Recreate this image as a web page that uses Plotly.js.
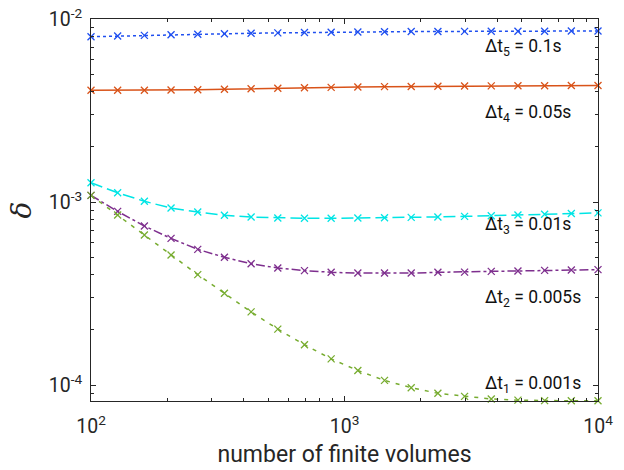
<!DOCTYPE html>
<html>
<head>
<meta charset="utf-8">
<script src="https://cdn.plot.ly/plotly-3.0.1.min.js"></script>
<style>html,body{margin:0;padding:0;background:#fff;}#chart{width:624px;height:470px;}</style>
</head>
<body>
<div id="chart"></div>
<script>
// number of finite volumes (20 log-spaced grid sizes)
const nVolumes = [100, 127.4, 162.4, 206.9, 263.7, 336.0, 428.1, 545.6, 695.2, 885.9,
                  1128.8, 1438.4, 1833.0, 2335.7, 2976.4, 3792.7, 4832.9, 6158.5, 7847.6, 10000];

// delta for each time step
const delta_dt5 = [8.00e-3, 8.07e-3, 8.14e-3, 8.20e-3, 8.26e-3, 8.31e-3, 8.36e-3, 8.40e-3, 8.44e-3, 8.47e-3,
                   8.50e-3, 8.52e-3, 8.54e-3, 8.55e-3, 8.56e-3, 8.57e-3, 8.58e-3, 8.58e-3, 8.59e-3, 8.60e-3];
const delta_dt4 = [4.08e-3, 4.08e-3, 4.08e-3, 4.09e-3, 4.11e-3, 4.13e-3, 4.16e-3, 4.18e-3, 4.21e-3, 4.23e-3,
                   4.25e-3, 4.27e-3, 4.28e-3, 4.29e-3, 4.30e-3, 4.31e-3, 4.32e-3, 4.32e-3, 4.33e-3, 4.33e-3];
const delta_dt3 = [1.275e-3, 1.124e-3, 1.009e-3, 9.27e-4, 8.82e-4, 8.46e-4, 8.28e-4, 8.18e-4, 8.15e-4, 8.15e-4,
                   8.17e-4, 8.20e-4, 8.24e-4, 8.29e-4, 8.35e-4, 8.42e-4, 8.50e-4, 8.58e-4, 8.65e-4, 8.72e-4];
const delta_dt2 = [1.087e-3, 8.89e-4, 7.39e-4, 6.33e-4, 5.51e-4, 4.99e-4, 4.60e-4, 4.36e-4, 4.22e-4, 4.13e-4,
                   4.09e-4, 4.09e-4, 4.09e-4, 4.13e-4, 4.14e-4, 4.18e-4, 4.20e-4, 4.23e-4, 4.25e-4, 4.27e-4];
const delta_dt1 = [1.087e-3, 8.49e-4, 6.60e-4, 5.13e-4, 4.01e-4, 3.17e-4, 2.51e-4, 2.02e-4, 1.66e-4, 1.39e-4,
                   1.20e-4, 1.06e-4, 9.67e-5, 9.01e-5, 8.67e-5, 8.39e-5, 8.27e-5, 8.22e-5, 8.20e-5, 8.20e-5];

const seriesLabels = ['Δt<sub>1</sub> = 0.001s', 'Δt<sub>2</sub> = 0.005s', 'Δt<sub>3</sub> = 0.01s',
                      'Δt<sub>4</sub> = 0.05s', 'Δt<sub>5</sub> = 0.1s'];
const labelY = [1.01e-4, 2.98e-4, 7.45e-4, 3.05e-3, 7.03e-3];

const xTickVals = [100, 1000, 10000];
const xTickText = ['10<sup>2</sup>', '10<sup>3</sup>', '10<sup>4</sup>'];
const xMinorVals = [200, 300, 400, 500, 600, 700, 800, 900, 2000, 3000, 4000, 5000, 6000, 7000, 8000, 9000];
const yTickVals = [1e-4, 1e-3, 1e-2];
const yTickText = ['10<sup>-4</sup>', '10<sup>-3</sup>', '10<sup>-2</sup>'];
const yMinorVals = [9e-5, 2e-4, 3e-4, 4e-4, 5e-4, 6e-4, 7e-4, 8e-4, 9e-4,
                    2e-3, 3e-3, 4e-3, 5e-3, 6e-3, 7e-3, 8e-3, 9e-3];

const ink = '#262626';
function tr(y, color, dash) {
  return {x: nVolumes, y: y, type: 'scatter', mode: 'lines+markers', cliponaxis: false,
    line: {color: color, width: 1.5, dash: dash},
    marker: {symbol: 'x-thin', size: 7, line: {color: color, width: 1.3}, color: color}};
}
const data = [
  tr(delta_dt5, '#1f4ff0', 'dot'),
  tr(delta_dt4, '#d95319', 'solid'),
  tr(delta_dt3, '#00e5e5', '12px,5px'),
  tr(delta_dt2, '#7e2f8e', 'dashdot'),
  tr(delta_dt1, '#77ac30', '4px,6px')
];

const annotations = seriesLabels.map((t, i) => ({
  x: Math.log10(3516), y: Math.log10(labelY[i]), xref: 'x', yref: 'y', text: t, showarrow: false,
  xanchor: 'left', yanchor: 'middle', font: {family: 'Roboto', size: 17.5, color: '#111'}
}));

const layout = {
  width: 624, height: 470,
  margin: {l: 91, r: 26, t: 19, b: 69},
  paper_bgcolor: '#fff', plot_bgcolor: '#fff',
  showlegend: false,
  font: {family: 'Roboto', color: ink},
  xaxis: {
    type: 'log', range: [2, 4], tickmode: 'array', tickvals: xTickVals, ticktext: xTickText,
    ticks: 'inside', ticklen: 5, tickcolor: ink, showline: true, linecolor: ink, linewidth: 1, mirror: 'ticks',
    showgrid: false, zeroline: false, tickfont: {size: 19.5, color: ink}, ticklabelstandoff: 8,
    minor: {tickmode: 'array', tickvals: xMinorVals, ticks: 'inside', ticklen: 3, tickcolor: ink, showgrid: false},
    title: {text: 'number of finite volumes', font: {size: 23, color: ink}, standoff: 8}
  },
  yaxis: {
    type: 'log', range: [Math.log10(8.18e-5), -2], tickmode: 'array', tickvals: yTickVals, ticktext: yTickText,
    ticks: 'inside', ticklen: 5, tickcolor: ink, showline: true, linecolor: ink, linewidth: 1, mirror: 'ticks',
    showgrid: false, zeroline: false, tickfont: {size: 19.5, color: ink}, ticklabelstandoff: 4,
    minor: {tickmode: 'array', tickvals: yMinorVals, ticks: 'inside', ticklen: 3, tickcolor: ink, showgrid: false},
    title: {text: 'δ', font: {family: 'DejaVu Serif', size: 28, color: ink, style: 'italic'}, standoff: 8}
  },
  annotations: annotations
};

Plotly.newPlot('chart', data, layout, {displayModeBar: false, staticPlot: true});
</script>
</body>
</html>
